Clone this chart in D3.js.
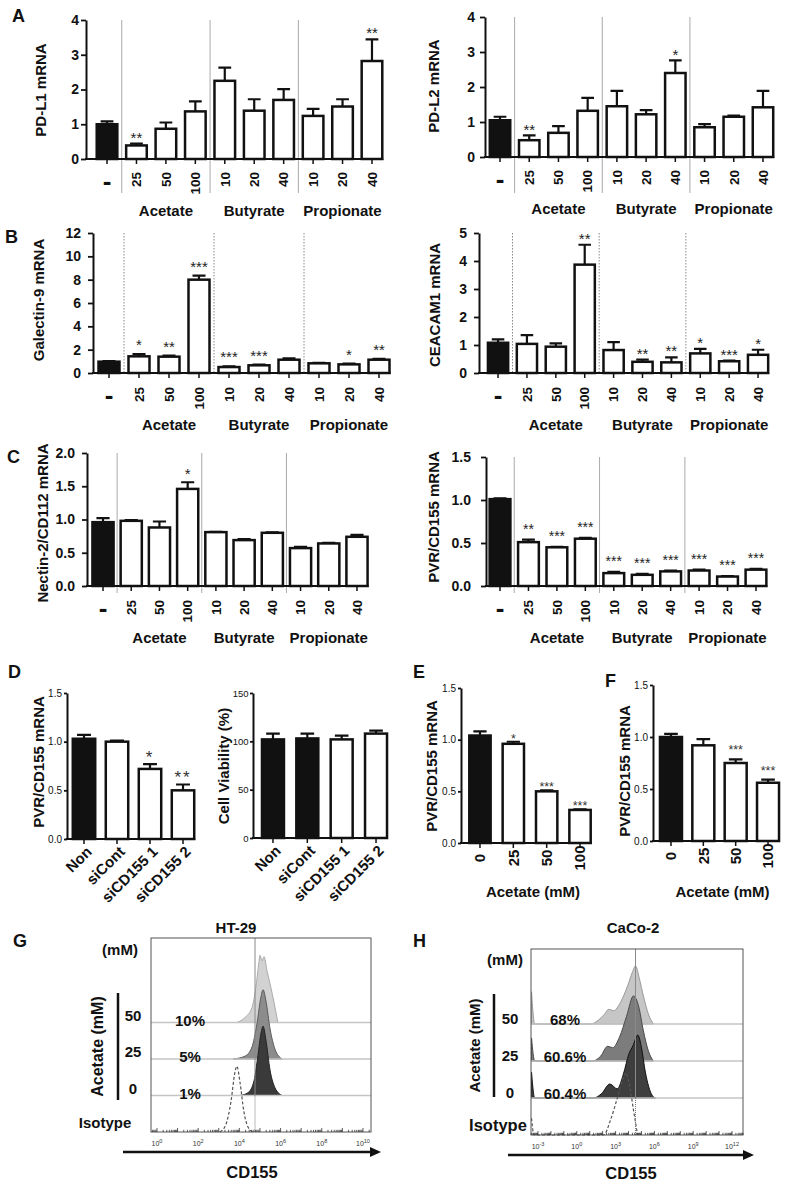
<!DOCTYPE html>
<html><head><meta charset="utf-8">
<script src="https://cdn.jsdelivr.net/npm/d3@7"></script>
<style>body{margin:0;background:#fff;}svg{display:block;}</style>
</head><body>
<script>
// ---------------- DATA ----------------
const doseCats = ["-","25","50","100","10","20","40","10","20","40"];
const doseGroups = ["Acetate","Butyrate","Propionate"];
const doseGroupSpan = [[1,3],[4,6],[7,9]];
const doseControl = [true,false,false,false,false,false,false,false,false,false];

const pdl1Mean = [1.00,0.39,0.87,1.37,2.25,1.39,1.70,1.24,1.51,2.82];
const pdl1Err  = [0.08,0.05,0.18,0.29,0.38,0.33,0.31,0.20,0.21,0.62];
const pdl1Stars = ["","**","","","","","","","","**"];

const pdl2Mean = [1.05,0.48,0.69,1.32,1.45,1.22,2.40,0.85,1.15,1.42];
const pdl2Err  = [0.10,0.14,0.19,0.37,0.44,0.12,0.36,0.09,0.03,0.47];
const pdl2Stars = ["","**","","","","","*","","",""];

const gal9Mean = [0.97,1.43,1.40,8.00,0.51,0.66,1.14,0.83,0.74,1.14];
const gal9Err  = [0.05,0.20,0.10,0.34,0.05,0.06,0.12,0.05,0.06,0.08];
const gal9Stars = ["","*","**","***","***","***","","","*","**"];

const ceacamMean = [1.08,1.04,0.94,3.87,0.82,0.40,0.38,0.70,0.42,0.65];
const ceacamErr  = [0.12,0.31,0.12,0.71,0.28,0.08,0.18,0.16,0.02,0.18];
const ceacamStars = ["","","","**","","**","**","*","***","*"];

const nectinMean = [0.96,0.98,0.88,1.46,0.81,0.69,0.80,0.57,0.64,0.74];
const nectinErr  = [0.06,0.01,0.09,0.10,0.005,0.015,0.005,0.02,0.01,0.03];
const nectinStars = ["","","","*","","","","","",""];

const pvrMean = [1.01,0.51,0.45,0.55,0.15,0.13,0.17,0.18,0.11,0.19];
const pvrErr  = [0.01,0.03,0.005,0.01,0.015,0.01,0.01,0.01,0.005,0.01];
const pvrStars = ["","**","***","***","***","***","***","***","***","***"];

const siCats = ["Non","siCont","siCD155 1","siCD155 2"];
const siPvrMean = [1.03,1.00,0.72,0.50];
const siPvrErr  = [0.04,0.01,0.05,0.06];
const siPvrStars = ["","","*","**"];
const siPvrControl = [true,false,false,false];
const viabMean = [102,103,102,108];
const viabErr  = [6,5,4,3];
const viabStars = ["","","",""];
const viabControl = [true,true,false,false];

const acetateDose = ["0","25","50","100"];
const acetateControl = [true,false,false,false];
const ht29Mean = [1.04,0.96,0.50,0.32];
const ht29Err  = [0.04,0.02,0.01,0.005];
const ht29Stars = ["","*","***","***"];
const caco2Mean = [1.00,0.92,0.75,0.56];
const caco2Err  = [0.03,0.06,0.035,0.03];
const caco2Stars = ["","","***","***"];

// tick values
const pdTicks = [0,1,2,3,4];
const gal9Ticks = [0,2,4,6,8,10,12];
const ceacamTicks = [0,1,2,3,4,5];
const nectinTicks = [0,0.5,1.0,1.5,2.0];
const pvrTicks = [0,0.5,1.0,1.5];
const viabTicks = [0,50,100,150];

// flow cytometry histograms: [log10(CD155), % of max]
const flowRowLabels = ["50","25","0"];
const ht29Pct = ["10%","5%","1%"];
const caco2Pct = ["68%","60.6%","60.4%"];
const ht29Exps = [0,2,4,6,8,10];
const caco2Exps = [-3,0,3,6,9,12];
const ht29Gate = 4.76, caco2Gate = 4.54;

const ht29R50 = [[3.88,0],[4.27,7],[4.61,21],[4.8,50],[4.95,86],[5.0,96],[5.1,88],[5.2,94],[5.34,74],[5.53,50],[5.68,29],[5.87,0]];
const ht29R25 = [[3.69,0],[4.27,4],[4.61,17],[4.85,50],[5.05,89],[5.15,99],[5.29,83],[5.49,43],[5.73,14],[6.07,0]];
const ht29R0  = [[4.03,0],[4.42,4],[4.71,21],[4.9,57],[5.05,89],[5.15,99],[5.29,79],[5.49,36],[5.73,11],[6.07,0]];
const ht29Iso = [[3.06,0],[3.35,11],[3.59,43],[3.79,86],[3.88,94],[4.03,71],[4.22,29],[4.42,7],[4.66,0]];

const caco2R50 = [[-3.5,46],[-3.25,0],[1.08,0],[1.7,6],[2.15,14],[2.46,21],[2.85,19],[3.38,31],[3.92,54],[4.3,74],[4.54,83],[4.85,64],[5.15,40],[5.54,14],[5.92,0]];
const caco2R25 = [[-3.5,33],[-3.25,0],[1.23,0],[1.85,7],[2.38,21],[2.77,19],[3.3,34],[3.85,64],[4.38,93],[4.77,79],[5.15,43],[5.54,14],[5.92,0]];
const caco2R0  = [[-3.5,37],[-3.25,0],[1.3,0],[1.9,6],[2.56,20],[3.13,13],[3.6,34],[4.03,63],[4.35,75],[4.72,90],[5.0,72],[5.3,37],[5.82,4],[6.08,0]];
const caco2Iso = [[-3.5,24],[-3.3,0],[2.08,0],[2.6,21],[3.15,54],[3.54,79],[3.77,89],[4.08,71],[4.38,36],[4.7,0]];

// ---------------- DRAWING ----------------
const FONT = '"Liberation Sans", Arial, Helvetica, sans-serif';
const INK = "#111";
const svg = d3.select("body").append("svg").attr("width",793).attr("height",1183)
  .style("font-family",FONT);

function txt(x,y,s,opt={}){
  const t = svg.append("text").attr("x",x).attr("y",y).text(s)
    .attr("font-size",opt.size||15).attr("font-weight",opt.weight||"bold")
    .attr("text-anchor",opt.anchor||"start").attr("fill",opt.fill||INK);
  if(opt.rot) t.attr("transform",`rotate(${opt.rot},${x},${y})`);
  if(opt.dy) t.attr("dy",opt.dy);
  return t;
}

function barChart(o){
  const g = svg.append("g");
  const n = o.mean.length;
  const x = d3.scaleBand().domain(d3.range(n)).range([o.x0,o.x1]).paddingInner(o.pad).paddingOuter(o.pad/2);
  const y = d3.scaleLinear().domain([0,o.yMax]).range([o.yBase,o.yTop]);
  const bw = x.bandwidth(), cx = i => x(i)+bw/2;
  (o.seps||[]).forEach(i=>{
    const sx = x(i) - x.step()*o.pad/2;
    g.append("line").attr("x1",sx).attr("x2",sx).attr("y1",o.yTop).attr("y2",o.yBase+o.sepDrop)
      .attr("stroke",o.sepColor).attr("stroke-width",1).attr("stroke-dasharray",o.sepDash||null);
  });
  const capW = bw*0.62;
  g.selectAll("path.err").data(d3.range(n)).join("path").attr("class","err")
    .attr("d",i=>{const yt=y(o.mean[i]+o.err[i]), yb=y(o.mean[i]);
      return `M${cx(i)},${yb}V${yt}M${cx(i)-capW/2},${yt}H${cx(i)+capW/2}`;})
    .attr("stroke",INK).attr("stroke-width",2.2).attr("fill","none");
  g.selectAll("rect.bar").data(d3.range(n)).join("rect").attr("class","bar")
    .attr("x",i=>x(i)).attr("width",bw).attr("y",i=>y(o.mean[i])).attr("height",i=>o.yBase-y(o.mean[i]))
    .attr("fill",i=>o.ctrl[i]?INK:"#fff").attr("stroke",INK).attr("stroke-width",2.5);
  g.selectAll("text.star").data(d3.range(n)).join("text").attr("class","star")
    .attr("x",cx).attr("y",i=>y(o.mean[i]+o.err[i])-o.starOff)
    .attr("text-anchor","middle").attr("font-size",o.starSize).attr("fill",o.starFill||"#222")
    .attr("letter-spacing",o.starSpace||0).text(i=>o.stars[i]);
  // y axis
  const ya = d3.axisLeft(y).tickValues(o.ticks).tickFormat(d3.format(o.fmt))
    .tickSize(o.tickLen).tickSizeOuter(0).tickPadding(o.tickPad);
  const yg = g.append("g").attr("transform",`translate(${o.ax},0)`).call(ya).attr("font-family",FONT);
  yg.select(".domain").attr("stroke",INK).attr("stroke-width",2);
  yg.selectAll(".tick line").attr("stroke",INK).attr("stroke-width",1.8);
  yg.selectAll(".tick text").attr("font-size",o.yFont).attr("font-weight",o.yBold?"bold":"normal").attr("fill",INK);
  // x axis
  const xe = x(n-1)+bw+1;
  g.append("line").attr("x1",o.ax-1).attr("x2",xe).attr("y1",o.yBase).attr("y2",o.yBase)
    .attr("stroke",INK).attr("stroke-width",2);
  g.selectAll("line.xt").data(d3.range(n)).join("line").attr("class","xt")
    .attr("x1",cx).attr("x2",cx).attr("y1",o.yBase).attr("y2",o.yBase+5).attr("stroke",INK).attr("stroke-width",1.5);
  g.selectAll("text.xl").data(d3.range(n)).join("text").attr("class","xl")
    .each(function(i){
      const t = d3.select(this).attr("font-weight","bold").attr("fill",INK).text(o.cats[i]);
      if(o.cats[i]==="-"){
        t.attr("font-size",26).attr("text-anchor","middle")
          .attr("transform",`translate(${cx(i)},${o.yBase+31})`);
      } else if(o.xStyle==="end90"){
        t.attr("font-size",o.xFont).attr("text-anchor","end").attr("dy","0.35em")
          .attr("transform",`translate(${cx(i)},${o.yBase+o.lblOff}) rotate(-90)`);
      } else if(o.xStyle==="mid90"){
        t.attr("font-size",o.xFont).attr("text-anchor","middle").attr("dy","0.35em")
          .attr("transform",`translate(${cx(i)},${o.yBase+o.lblOff}) rotate(-90)`);
      } else {
        t.attr("font-size",o.xFont).attr("text-anchor","end").attr("dy","0.35em")
          .attr("transform",`translate(${cx(i)+5},${o.yBase+o.lblOff}) rotate(-45)`);
      }
    });
  (o.groups||[]).forEach((name,k)=>{
    const [a,b] = o.groupSpan[k];
    g.append("text").attr("x",(cx(a)+cx(b))/2).attr("y",o.yBase+o.groupOff).attr("text-anchor","middle")
      .attr("font-size",15).attr("font-weight","bold").attr("fill",INK).text(name);
  });
  if(o.groupTitle){
    g.append("text").attr("x",(cx(0)+cx(n-1))/2+3).attr("y",o.yBase+o.groupOff).attr("text-anchor","middle")
      .attr("font-size",15).attr("font-weight","bold").attr("fill",INK).text(o.groupTitle);
  }
  txt(o.yLabelX,o.yLabelY,o.yLabel,{anchor:"middle",rot:-90,dy:"0.35em",size:15});
}

const doseCommon = {cats:doseCats, ctrl:doseControl, groups:doseGroups, groupSpan:doseGroupSpan,
  pad:0.3, yFont:14, yBold:true, tickLen:5, tickPad:5, seps:[1,4,7], sepColor:"#aaa",
  xStyle:"end90", xFont:13.5, lblOff:13, groupOff:57, starSize:15};

// A
barChart({...doseCommon, mean:pdl1Mean, err:pdl1Err, stars:pdl1Stars,
  ax:86, x0:92.3, x1:386.7, yBase:159, yTop:20, yMax:4, ticks:pdTicks, fmt:"d", tickPad:2,
  sepDrop:34, starOff:1, yLabel:"PD-L1 mRNA", yLabelX:41, yLabelY:90});
barChart({...doseCommon, mean:pdl2Mean, err:pdl2Err, stars:pdl2Stars,
  ax:485, x0:485.4, x1:777.6, yBase:157, yTop:17, yMax:4, ticks:pdTicks, fmt:"d",
  sepDrop:36, starOff:0, yLabel:"PD-L2 mRNA", yLabelX:434, yLabelY:86});
// B
barChart({...doseCommon, mean:gal9Mean, err:gal9Err, stars:gal9Stars,
  ax:93, x0:94, x1:394, yBase:373, yTop:233, yMax:12, ticks:gal9Ticks, fmt:"d", tickPad:7,
  sepDrop:0, sepDash:"1.5,1.5", sepColor:"#888", starOff:4, lblOff:14,
  yLabel:"Galectin-9 mRNA", yLabelX:39, yLabelY:300});
barChart({...doseCommon, mean:ceacamMean, err:ceacamErr, stars:ceacamStars,
  ax:479, x0:483.6, x1:772.5, yBase:373, yTop:233, yMax:5, ticks:ceacamTicks, fmt:"d", tickPad:7,
  sepDrop:0, sepDash:"1.5,1.5", sepColor:"#888", starOff:1, lblOff:14,
  yLabel:"CEACAM1 mRNA", yLabelX:435, yLabelY:305});
// C
barChart({...doseCommon, mean:nectinMean, err:nectinErr, stars:nectinStars,
  ax:87, x0:88.9, x1:371.1, pad:0.25, yBase:586, yTop:453, yMax:2, ticks:nectinTicks, fmt:".1f", tickPad:7,
  sepDrop:7, starOff:3, lblOff:14,
  yLabel:"Nectin-2/CD112 mRNA", yLabelX:43, yLabelY:523});
barChart({...doseCommon, mean:pvrMean, err:pvrErr, stars:pvrStars,
  ax:486, x0:485.8, x1:770.2, pad:0.27, yBase:586, yTop:457, yMax:1.5, ticks:pvrTicks, fmt:".1f", tickPad:10,
  sepDrop:7, starOff:6, starSize:14, lblOff:14,
  yLabel:"PVR/CD155 mRNA", yLabelX:434, yLabelY:517});

const smallCommon = {pad:0.32, yFont:10, yBold:false, tickLen:3, tickPad:2, xFont:15, starFill:"#333"};
// D
barChart({...smallCommon, cats:siCats, ctrl:siPvrControl, mean:siPvrMean, err:siPvrErr, stars:siPvrStars,
  ax:67, x0:67.5, x1:199.5, yBase:839, yTop:693, yMax:1.5, ticks:pvrTicks, fmt:".1f",
  xStyle:"diag", lblOff:10, starSize:17, starOff:1, starSpace:2,
  yLabel:"PVR/CD155 mRNA", yLabelX:39, yLabelY:762});
barChart({...smallCommon, cats:siCats, ctrl:viabControl, mean:viabMean, err:viabErr, stars:viabStars,
  ax:253, x0:255.8, x1:393.2, pad:0.36, yBase:838, yTop:693, yMax:150, ticks:viabTicks, fmt:"d", yFont:9.5, tickPad:1.5,
  xStyle:"diag", lblOff:10, starSize:15, starOff:1,
  yLabel:"Cell Viability (%)", yLabelX:224, yLabelY:766});
// E
barChart({...smallCommon, cats:acetateDose, ctrl:acetateControl, mean:ht29Mean, err:ht29Err, stars:ht29Stars,
  ax:461, x0:463.3, x1:596.7, pad:0.36, yBase:843, yTop:688, yMax:1.5, ticks:pvrTicks, fmt:".1f",
  xStyle:"mid90", lblOff:15, groupOff:54, groupTitle:"Acetate (mM)", starSize:12.5, starOff:-1,
  yLabel:"PVR/CD155 mRNA", yLabelX:432, yLabelY:766});
// F
barChart({...smallCommon, cats:acetateDose, ctrl:acetateControl, mean:caco2Mean, err:caco2Err, stars:caco2Stars,
  ax:653, x0:654.8, x1:784.2, pad:0.32, yBase:841, yTop:685, yMax:1.5, ticks:pvrTicks, fmt:".1f",
  xStyle:"mid90", lblOff:15, groupOff:56, groupTitle:"Acetate (mM)", starSize:12.5, starOff:5,
  yLabel:"PVR/CD155 mRNA", yLabelX:625, yLabelY:771});

// ---------- flow histograms ----------
function flow(o){
  const g = svg.append("g");
  const x = d3.scaleLinear().domain(o.dom).range([o.L,o.R]);
  const h = d3.scaleLinear().domain([0,100]).range([0,70]);
  const rowY = k => o.B - o.step*k;
  g.append("rect").attr("x",o.L).attr("y",o.T).attr("width",o.R-o.L).attr("height",o.B-o.T).attr("fill","#fff");
  const rows = [{d:o.r50,k:3,f:o.fills[0],s:o.strokes[0]},{d:o.r25,k:2,f:o.fills[1],s:o.strokes[1]},{d:o.r0,k:1,f:o.fills[2],s:o.strokes[2]}];
  rows.forEach(r=>{
    const by = rowY(r.k);
    const area = d3.area().x(d=>x(d[0])).y0(by).y1(d=>by-h(d[1])).curve(d3.curveMonotoneX);
    g.append("path").attr("d",area(r.d)).attr("fill",r.f).attr("stroke",r.s).attr("stroke-width",1);
    g.append("line").attr("x1",o.L).attr("x2",o.R).attr("y1",by).attr("y2",by).attr("stroke","#c4c4c4").attr("stroke-width",1.6);
  });
  const line = d3.line().x(d=>x(d[0])).y(d=>o.B-h(d[1])).curve(d3.curveMonotoneX);
  g.append("path").attr("d",line(o.iso)).attr("fill","none").attr("stroke","#555")
    .attr("stroke-width",1.2).attr("stroke-dasharray","3,2");
  const gx = x(o.gate);
  g.append("line").attr("x1",gx).attr("x2",gx).attr("y1",o.T).attr("y2",rowY(1)).attr("stroke","#8a8a8a").attr("stroke-width",1);
  g.append("line").attr("x1",gx).attr("x2",gx).attr("y1",rowY(1)).attr("y2",o.B).attr("stroke","#777").attr("stroke-width",1).attr("stroke-dasharray","1,1");
  g.append("rect").attr("x",o.L).attr("y",o.T).attr("width",o.R-o.L).attr("height",o.B-o.T)
    .attr("fill","none").attr("stroke","#555").attr("stroke-width",1);
  // log ticks
  const tk = [];
  for(let k=Math.floor(o.dom[0]); k<=Math.ceil(o.dom[1]); k++){
    for(let m=1;m<10;m++){ const v = k+Math.log10(m); if(v>=o.dom[0]&&v<=o.dom[1]) tk.push([v,m===1]); }
  }
  g.selectAll("line.lt").data(tk).join("line").attr("class","lt")
    .attr("x1",d=>x(d[0])).attr("x2",d=>x(d[0])).attr("y1",o.B).attr("y2",d=>o.B-(d[1]?4:2.2))
    .attr("stroke","#333").attr("stroke-width",0.8);
  o.exps.forEach(e=>{
    const t = g.append("text").attr("x",x(e)).attr("y",o.B+14).attr("text-anchor","middle")
      .attr("font-size",7).attr("fill","#333").text("10");
    t.append("tspan").attr("dy",-3).attr("font-size",5.5).text(String(e));
  });
  // labels
  txt(o.titleX,933,o.title,{anchor:"middle",size:15});
  txt(o.mmX,o.mmY,"(mM)",{anchor:"middle",size:15});
  g.append("line").attr("x1",o.barX).attr("x2",o.barX).attr("y1",o.barT).attr("y2",o.barB).attr("stroke",INK).attr("stroke-width",2.5);
  txt(o.accX,(o.barT+o.barB)/2,"Acetate (mM)",{anchor:"middle",rot:-90,dy:"0.35em",size:o.accSize});
  flowRowLabels.forEach((s,i)=>{
    const by = rowY(3-i);
    txt(o.numX,by+o.numDy,s,{anchor:"middle",size:15});
    txt(o.pctX,by+o.pctDy,o.pct[i],{anchor:"middle",size:15});
  });
  txt(o.isoX,o.isoY,"Isotype",{anchor:"middle",size:o.isoSize});
  // arrow
  g.append("line").attr("x1",o.a0).attr("x2",o.a1-8).attr("y1",o.aY).attr("y2",o.aY).attr("stroke",INK).attr("stroke-width",2.5);
  g.append("path").attr("d",`M${o.a1},${o.aY}L${o.a1-11},${o.aY-5}L${o.a1-11},${o.aY+5}Z`).attr("fill",INK);
  txt((o.a0+o.a1)/2,o.cdY,"CD155",{anchor:"middle",size:16.5});
}

flow({dom:[-0.29,10.39], L:151, R:371, T:938, B:1132, step:36.5,
  r50:ht29R50, r25:ht29R25, r0:ht29R0, iso:ht29Iso, gate:ht29Gate, exps:ht29Exps, pct:ht29Pct,
  fills:["#d2d2d2","#8c8c8c","#3a3a3a"], strokes:["#ababab","#5a5a5a","#222"],
  title:"HT-29", titleX:236, mmX:120, mmY:955, barX:118, barT:993, barB:1100,
  accX:97, accSize:16, numX:133, numDy:-2, pctX:190, pctDy:3, isoX:105, isoY:1128, isoSize:15,
  a0:123, a1:381, aY:1152, cdY:1178});
flow({dom:[-3.54,12.85], L:531, R:743, T:949, B:1135, step:37,
  r50:caco2R50, r25:caco2R25, r0:caco2R0, iso:caco2Iso, gate:caco2Gate, exps:caco2Exps, pct:caco2Pct,
  fills:["#c6c6c6","#7c7c7c","#3e3e3e"], strokes:["#9a9a9a","#4a4a4a","#111"],
  title:"CaCo-2", titleX:633, mmX:505, mmY:965, barX:494, barT:994, barB:1097,
  accX:475, accSize:15, numX:510, numDy:0, pctX:565, pctDy:1, isoX:498, isoY:1131, isoSize:16.5,
  a0:508, a1:754, aY:1155, cdY:1179});

// panel letters
[["A",12,22],["B",5,243],["C",7,463],["D",8,678],["E",413,678],["F",605,687],["G",13,947],["H",413,947]]
  .forEach(([s,x,y])=>txt(x,y,s,{size:18}));
</script>
</body></html>
